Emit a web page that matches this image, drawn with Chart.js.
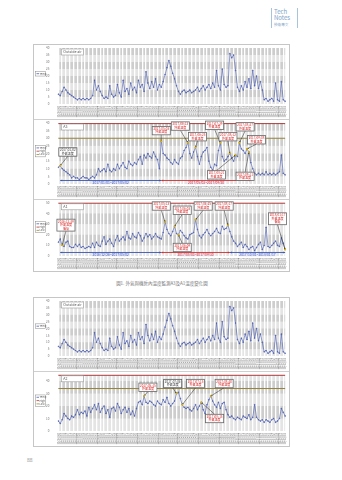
<!DOCTYPE html>
<html>
<head>
<meta charset="utf-8">
<script src="https://cdn.jsdelivr.net/npm/chart.js@4.4.0/dist/chart.umd.min.js"></script>
<style>
body { margin: 0; width: 342px; height: 480px; position: relative; overflow: hidden; background: #fff;
  font-family: "Noto Sans CJK TC", "Noto Sans", sans-serif; }
.frame { position: absolute; border: 1px solid #c6c6c6; box-sizing: border-box; background: #fff; }
.sep { position: absolute; left: 34px; width: 255px; height: 1px; background: #cfcfcf; }
canvas { position: absolute; }
.tag { position: absolute; left: 271px; top: 8px; width: 25px; height: 20px; border-left: 1px solid #a8c3dc; border-right: 1px solid #a8c3dc; }
.tag div { color: #7da3c8; line-height: 1; padding-left: 2px; }
.caption { position: absolute; left: 0; width: 324px; top: 280px; text-align: center; font-size: 4.5px; color: #777; }
.pageno { position: absolute; left: 27px; top: 456px; font-size: 5px; color: #888; }
</style>
</head>
<body>
<div class="tag">
  <div style="font-size:6px;margin-top:1px">Tech</div>
  <div style="font-size:6px">Notes</div>
  <div style="font-size:3.6px;margin-top:2px">技術專文</div>
</div>

<div class="frame" style="left:33px;top:44px;width:257px;height:228px"></div>
<div class="sep" style="top:119px"></div>
<div class="sep" style="top:199px"></div>
<canvas id="c1" width="255" height="74" style="left:34px;top:45px"></canvas>
<canvas id="c2" width="255" height="79" style="left:34px;top:120px"></canvas>
<canvas id="c3" width="255" height="71" style="left:34px;top:200px"></canvas>
<div class="caption">圖1. 外氣與機房內溫度監測A3及A1溫度變化圖</div>

<div class="frame" style="left:33px;top:297px;width:257px;height:150px"></div>
<div class="sep" style="top:371px"></div>
<canvas id="c4" width="255" height="73" style="left:34px;top:298px"></canvas>
<canvas id="c5" width="255" height="74" style="left:34px;top:372px"></canvas>
<div class="pageno">88</div>

<script>
// ---- data ----
const firstDay = new Date(2016, 11, 26);
const dayStep = 3;
const dates = [];
for (let i = 0; i < 120; i++) {
    const d = new Date(firstDay);
    d.setDate(d.getDate() + i * dayStep);
    dates.push(String(d.getFullYear()).slice(2) + '/' + String(d.getMonth() + 1).padStart(2, '0') + '/' + String(d.getDate()).padStart(2, '0'));
}

const outsideAir = [
    7, 6, 9, 12, 10, 8, 7, 6, 5,
    4, 3, 4, 3, 4, 3, 4, 3, 4, 6,
    17, 10, 13, 9, 6, 4, 5, 4,
    13, 7, 5, 6, 14, 8, 5,
    17, 9, 11, 7, 15, 10, 12, 8,
    17, 12, 14, 9, 23, 15, 11, 16,
    12, 18, 10, 14, 12, 16,
    21, 26, 31, 27, 22, 18, 13,
    9, 7, 9, 10, 8, 9, 10, 8, 9,
    10, 12, 9, 11, 13, 10, 12, 14, 11,
    15, 12, 24, 13, 10, 25, 14, 12, 13,
    36, 33, 35, 24, 12, 9, 13, 10,
    16, 12, 18, 11, 24, 13, 20, 11, 16, 10,
    3, 4, 2, 3, 4, 2, 15, 3, 2, 16, 3, 2
];

const tempA3 = [
    11, 12, 10, 9, 8, 7, 6,
    4, 5, 4, 4, 3, 4, 5, 4, 4, 3, 4, 5, 4,
    6, 10, 8, 9, 10, 8, 13, 9, 8, 10, 9, 13, 10, 12, 14, 11, 10,
    15, 13, 12, 14, 13, 16, 18, 13, 19, 17, 20, 18, 17, 21, 18, 16,
    10, 28, 20,
    19, 17, 16, 14, 13, 16, 14, 13, 17, 18, 22, 24, 27,
    20, 17, 21, 24, 18, 13, 18, 21, 22, 24, 15, 11, 9,
    13, 12, 22, 27, 18, 15, 16, 18, 20, 17, 15, 19, 18,
    27, 23, 22, 20, 23, 21, 14, 10,
    7, 6, 7, 6, 7, 6, 8, 6, 7, 6, 7, 6, 7, 8, 19, 7, 6
];

const tempA1 = [
    13, 16, 10, 9, 13, 14, 9, 8, 8, 11, 9, 11, 8, 9, 7, 8, 9, 8,
    12, 8, 13, 10, 9, 14, 18, 11, 14, 16, 12, 9, 15, 19, 14, 16, 18, 15,
    23, 17, 16, 21, 18, 17, 22, 19, 14, 17, 21, 18, 20, 16, 18, 21, 18, 17, 16, 22,
    32, 25, 21, 19, 23, 28, 21, 20, 24, 22, 19, 17, 16, 20, 21, 22,
    34, 25, 19, 17, 20, 22, 25, 21, 19, 21, 23, 26, 22, 21, 28, 25, 26, 29, 23, 18,
    14, 12, 9, 11, 13, 8, 11, 9, 6, 8, 9, 5, 8, 11, 13, 6, 10,
    27, 9, 8, 10, 12, 14, 10, 9, 17, 12, 6
];

const tempA2 = [
    8, 6, 9, 14, 12, 10, 9, 12, 11, 13, 17, 13, 15, 14, 16, 12,
    19, 15, 18, 21, 17, 22, 15, 18, 20, 14, 17, 11, 18, 19, 16, 22,
    19, 14, 17, 19, 15, 18, 13, 16, 12, 18, 23, 24, 21, 28, 23, 22,
    24, 23, 21, 20, 24, 22, 21, 25, 23, 27, 22, 20, 22, 24, 30, 31,
    26, 21, 19, 18, 19, 17, 16, 18, 21, 17, 20, 23, 17, 14, 21, 25,
    28, 24, 21, 19, 23, 18, 22, 23, 17, 13, 11, 12, 10, 9, 11, 10,
    9, 12, 11, 10, 13, 9, 11, 21, 11, 9, 8, 9, 7, 9, 8, 7,
    9, 10, 7, 8, 10, 18, 15, 12
];

// ---- callouts (anchor index + box placement in data units) ----
const a3Callouts = [
    { at: 1, bx: 5, bv: 21, text: ['2017/01/02', '外氣溫度'], gray: true },
    { at: 54, bx: 54, bv: 35, text: ['2017/05/03', '外氣溫度'] },
    { at: 68, bx: 64, bv: 38, text: ['2017/06/13', '外氣溫度'] },
    { at: 72, bx: 73, bv: 31, text: ['2017/06/25', '外氣溫度'] },
    { at: 85, bx: 82, bv: 38.5, text: ['2017/07/29', '外氣溫度'] },
    { at: 90, bx: 89, bv: 31, text: ['2017/08/12', '外氣溫度'] },
    { at: 95, bx: 98, bv: 37.5, text: ['2017/08/27', '外氣溫度'] },
    { at: 99, bx: 104, bv: 29, text: ['2017/09/08', '外氣溫度'] },
    { at: 93, bx: 83, bv: 6, text: ['2017/08/21', '外氣溫度'] },
    { at: 100, bx: 98, bv: 5, text: ['2017/09/11', '外氣溫度'] }
];
const a3Periods = [
    { from: 1, to: 54, color: '#3a55b0', text: '2017/01/01~2017/05/02' },
    { from: 54, to: 101, color: '#d03030', text: '2017/05/03~2017/09/30' }
];

const a1Callouts = [
    { at: 2, bx: 4, bv: 29, text: ['2016/12/29', '外氣溫度', '偏低'] },
    { at: 56, bx: 54, bv: 47, text: ['2017/05/13', '外氣溫度'] },
    { at: 61, bx: 65, bv: 43, text: ['2017/06/03', '外氣溫度'] },
    { at: 72, bx: 76, bv: 47, text: ['2017/06/25', '外氣溫度'] },
    { at: 89, bx: 87, bv: 47, text: ['2017/08/17', '外氣溫度'] },
    { at: 63, bx: 65, bv: 8, text: ['2017/06/09', '外氣溫度'] },
    { at: 119, bx: 115, bv: 35, text: ['2018/01/17', '外氣溫度', '偏低'] }
];
const a1Periods = [
    { from: 1, to: 54, color: '#3a55b0', text: '2016/12/26~2017/05/02' },
    { from: 54, to: 90, color: '#d03030', text: '2017/05/03~2017/09/30' },
    { from: 90, to: 119, color: '#3a55b0', text: '2017/10/01~2018/01/17' }
];

const a2Callouts = [
    { at: 45, bx: 47, bv: 35, text: ['2017/05/15', '外氣溫度'] },
    { at: 62, bx: 60, bv: 38, text: ['2017/07/06', '外氣溫度'], gray: true },
    { at: 65, bx: 72, bv: 38, text: ['2017/07/15', '外氣溫度'] },
    { at: 80, bx: 87, bv: 38, text: ['2017/08/30', '外氣溫度'] },
    { at: 75, bx: 82, bv: 10, text: ['2017/08/15', '外氣溫度'] }
];

// ---- drawing helpers ----
const FONT = '"Noto Sans CJK TC", "Noto Sans", sans-serif';
const BLUE = '#4a5db0';

function arrowHead(ctx, x0, y0, x1, y1, size) {
    const ang = Math.atan2(y1 - y0, x1 - x0);
    ctx.beginPath();
    ctx.moveTo(x1, y1);
    ctx.lineTo(x1 - size * Math.cos(ang - 0.45), y1 - size * Math.sin(ang - 0.45));
    ctx.lineTo(x1 - size * Math.cos(ang + 0.45), y1 - size * Math.sin(ang + 0.45));
    ctx.closePath();
    ctx.fill();
}

const pageConfigs = {};

const pagePlugin = {
    id: 'pageDecor',
    beforeDraw(chart) {
        const { ctx, chartArea: a, scales: { y } } = chart;
        ctx.save();
        ctx.fillStyle = '#e4e4e4';
        ctx.fillRect(a.left, a.top, a.width, a.height);
        ctx.fillStyle = '#cdcdcd';
        for (let i = 0; i < y.ticks.length - 1; i++) {
            if (i % 2 === 1) {
                const y0 = y.getPixelForValue(y.ticks[i].value);
                const y1 = y.getPixelForValue(y.ticks[i + 1].value);
                ctx.fillRect(a.left, y1, a.width, y0 - y1);
            }
        }
        ctx.restore();
    },
    beforeDatasetsDraw(chart) {
        const cfg = pageConfigs[chart.canvas.id];
        const { ctx, chartArea: a, scales: { y } } = chart;
        ctx.save();
        (cfg.limits || []).forEach(l => {
            const py = y.getPixelForValue(l.v);
            ctx.strokeStyle = l.color;
            ctx.lineWidth = 1;
            ctx.beginPath();
            ctx.moveTo(a.left, py);
            ctx.lineTo(a.right, py);
            ctx.stroke();
        });
        ctx.restore();
    },
    afterDatasetsDraw(chart) {
        const cfg = pageConfigs[chart.canvas.id];
        const { ctx, chartArea: a, scales: { x, y } } = chart;
        const values = chart.data.datasets[0].data;
        ctx.save();

        // period arrows along the bottom
        (cfg.periods || []).forEach(p => {
            const x0 = x.getPixelForValue(p.from), x1 = x.getPixelForValue(p.to);
            const py = a.bottom - 3.5;
            ctx.strokeStyle = p.color;
            ctx.fillStyle = p.color;
            ctx.lineWidth = 0.9;
            ctx.beginPath();
            ctx.moveTo(x0, py);
            ctx.lineTo(x1, py);
            ctx.stroke();
            arrowHead(ctx, x1, py, x0, py, 2.2);
            arrowHead(ctx, x0, py, x1, py, 2.2);
            ctx.font = '3.3px ' + FONT;
            ctx.textAlign = 'center';
            ctx.textBaseline = 'middle';
            const tw = ctx.measureText(p.text).width;
            ctx.fillStyle = 'rgba(235,235,250,0.9)';
            ctx.fillRect((x0 + x1) / 2 - tw / 2 - 1, py + 0.6, tw + 2, 3.2);
            ctx.fillStyle = p.color;
            ctx.fillText(p.text, (x0 + x1) / 2, py + 2.2);
        });

        // callout boxes
        (cfg.callouts || []).forEach(c => {
            const ax = x.getPixelForValue(c.at), ay = y.getPixelForValue(values[c.at]);
            const bx = x.getPixelForValue(c.bx), by = y.getPixelForValue(c.bv);
            ctx.font = '3px ' + FONT;
            const w = Math.max(...c.text.map(t => ctx.measureText(t).width)) + 2.4;
            const h = c.text.length * 3.5 + 1.4;
            const left = bx - w / 2, top = by - h / 2;
            // leader line
            const ey = ay > by ? top + h : top;
            ctx.strokeStyle = '#222';
            ctx.fillStyle = '#222';
            ctx.lineWidth = 0.5;
            ctx.beginPath();
            ctx.moveTo(bx, ey);
            ctx.lineTo(ax, ay);
            ctx.stroke();
            arrowHead(ctx, bx, ey, ax, ay, 1.8);
            ctx.fillStyle = '#e2b400';
            ctx.beginPath();
            ctx.arc(ax, ay, 1, 0, Math.PI * 2);
            ctx.fill();
            // box
            ctx.fillStyle = '#fff';
            ctx.fillRect(left, top, w, h);
            ctx.strokeStyle = c.gray ? '#555' : '#666';
            ctx.lineWidth = 0.8;
            ctx.strokeRect(left, top, w, h);
            ctx.fillStyle = c.gray ? '#444' : '#d42a2a';
            ctx.textAlign = 'center';
            ctx.textBaseline = 'top';
            c.text.forEach((t, i) => ctx.fillText(t, bx, top + 0.9 + i * 3.5));
        });
        ctx.restore();
    },
    afterDraw(chart) {
        const cfg = pageConfigs[chart.canvas.id];
        const { ctx, chartArea: a } = chart;
        ctx.save();
        // title box in the plot corner
        ctx.font = '3.6px ' + FONT;
        const tw = Math.max(ctx.measureText(cfg.title).width + 4, 22);
        ctx.fillStyle = '#fff';
        ctx.fillRect(a.left + 3, a.top + 1, tw, 6);
        ctx.strokeStyle = '#999';
        ctx.lineWidth = 0.6;
        ctx.strokeRect(a.left + 3, a.top + 1, tw, 6);
        ctx.fillStyle = '#555';
        ctx.textBaseline = 'middle';
        ctx.fillText(cfg.title, a.left + 5, a.top + 4.1);
        // small legend at left margin
        const rows = cfg.legend;
        const lh = 3.3;
        const top = (a.top + a.bottom) / 2 - rows.length * lh / 2 - 3;
        ctx.fillStyle = '#fff';
        ctx.fillRect(1.5, top, 10, rows.length * lh + 1.4);
        ctx.strokeStyle = '#888';
        ctx.lineWidth = 0.5;
        ctx.strokeRect(1.5, top, 10, rows.length * lh + 1.4);
        ctx.font = '2.6px ' + FONT;
        rows.forEach((r, i) => {
            const ry = top + 0.7 + lh * i + lh / 2;
            ctx.strokeStyle = r.color;
            ctx.lineWidth = 0.8;
            ctx.beginPath();
            ctx.moveTo(2.5, ry);
            ctx.lineTo(5, ry);
            ctx.stroke();
            ctx.fillStyle = '#555';
            ctx.fillText(r.label, 5.5, ry);
        });
        ctx.restore();
    }
};

const legendOne = [{ color: BLUE, label: 'Temp' }];
const legendThree = [
    { color: BLUE, label: 'Temp' },
    { color: '#c03030', label: 'High' },
    { color: '#9a8a30', label: 'Low' }
];

function drawPanel(id, values, cfg) {
    pageConfigs[id] = cfg;
    return new Chart(document.getElementById(id), {
        type: 'line',
        data: {
            labels: dates,
            datasets: [{
                data: values,
                borderColor: BLUE,
                backgroundColor: BLUE,
                borderWidth: 0.6,
                pointRadius: 0.45,
                pointHoverRadius: 0,
                tension: 0
            }]
        },
        options: {
            responsive: false,
            animation: false,
            events: [],
            layout: { padding: { left: 11, right: 2, top: cfg.padTop, bottom: 1 } },
            plugins: { legend: { display: false }, tooltip: { enabled: false } },
            scales: {
                x: {
                    ticks: {
                        font: { size: 2.8, family: FONT },
                        color: '#7a7a7a',
                        minRotation: 90,
                        maxRotation: 90,
                        autoSkip: false,
                        padding: 0.5
                    },
                    grid: {
                        color: c => (c.index % 2 ? 'rgba(255,255,255,0)' : 'rgba(255,255,255,1)'),
                        lineWidth: 1.3,
                        tickLength: 1.5
                    },
                    border: { display: false }
                },
                y: {
                    min: cfg.min,
                    max: cfg.max,
                    ticks: { stepSize: cfg.step, font: { size: 3, family: FONT }, color: '#777', padding: 1 },
                    grid: { display: false },
                    border: { display: false }
                }
            }
        },
        plugins: [pagePlugin]
    });
}

drawPanel('c1', outsideAir, { title: 'Outside air', legend: legendOne, min: 0, max: 40, step: 5, padTop: 3 });
drawPanel('c2', tempA3, {
    title: 'A3', legend: legendThree, min: 0, max: 40, step: 5, padTop: 3,
    limits: [{ v: 39.6, color: '#b03a3a' }, { v: 30, color: '#94823a' }],
    callouts: a3Callouts, periods: a3Periods
});
drawPanel('c3', tempA1, {
    title: 'A1', legend: legendThree, min: 0, max: 50, step: 5, padTop: 2,
    limits: [{ v: 49.6, color: '#b03a3a' }],
    callouts: a1Callouts, periods: a1Periods
});
drawPanel('c4', outsideAir, { title: 'Outside air', legend: legendOne, min: 0, max: 40, step: 5, padTop: 3 });
drawPanel('c5', tempA2, {
    title: 'A2', legend: legendThree, min: 0, max: 45, step: 5, padTop: 1,
    limits: [{ v: 44.6, color: '#b03a3a' }, { v: 34, color: '#94823a' }],
    callouts: a2Callouts
});
</script>
</body>
</html>
